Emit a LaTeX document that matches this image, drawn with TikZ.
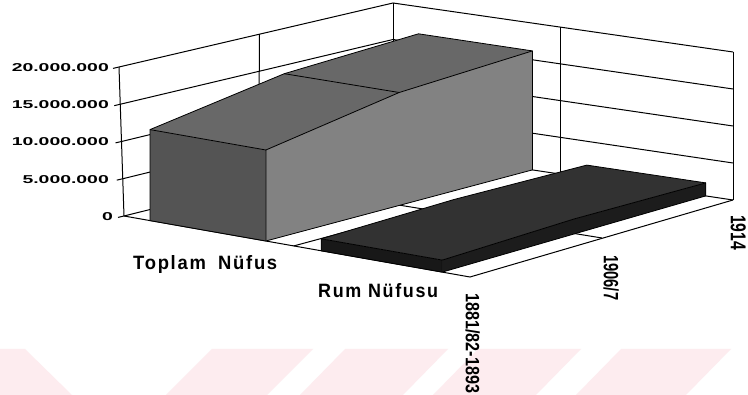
\documentclass[tikz,border=0pt]{standalone}
\usepackage{fontspec}
\setmainfont{Liberation Sans}
\newfontfamily\lblfont{Liberation Sans}[FakeStretch=0.75,LetterSpace=7]
\newfontfamily\catfont{Liberation Sans}[FakeStretch=0.85]
\usepackage{graphicx}
\definecolor{pinkwm}{RGB}{253,236,239}
\definecolor{endT}{RGB}{84,84,84}
\definecolor{topT}{RGB}{104,104,104}
\definecolor{frontT}{RGB}{130,130,130}
\definecolor{endR}{RGB}{24,24,24}
\definecolor{frontR}{RGB}{28,28,28}
\definecolor{topR}{RGB}{50,50,50}
\newcommand\axlab[1]{\scalebox{1.7}[1]{\fontsize{11.4}{12}\selectfont\bfseries #1}}
\begin{document}
\begin{tikzpicture}[x=1pt,y=-1pt,
  wall/.style={line width=1pt,black},
  face/.style={draw=black,line width=0.8pt,line join=round},
  ylab/.style={anchor=east,inner sep=0pt},
  serlab/.style={anchor=base west,inner sep=0pt},
  catlab/.style={anchor=north west,inner sep=0pt,rotate=-90}]
\useasboundingbox (0,0) rectangle (748,395);
\fill[white] (0,0) rectangle (748,395);
% watermark
\fill[pinkwm] (0,349) -- (25,349) -- (72,395) -- (0,395) -- cycle;
\fill[pinkwm] (212,349) -- (313,349) -- (267,395) -- (166,395) -- cycle;
\fill[pinkwm] (345,349) -- (448,349) -- (403,395) -- (300,395) -- cycle;
\fill[pinkwm] (478,349) -- (581,349) -- (536,395) -- (433,395) -- cycle;
\fill[pinkwm] (621,349) -- (731,349) -- (686,395) -- (576,395) -- cycle;
% corners
\coordinate (A) at (124,216);
\coordinate (B) at (393,149);
\coordinate (C) at (733,200);
\coordinate (D) at (470,277);
% walls: horizontal gridlines and ticks
\foreach \k in {0,...,4}{
  \draw[wall] (119+1.25*\k,67+37.25*\k) -- (393,3+36.5*\k) -- (733,52+37*\k);
  \draw[wall] (119+1.25*\k,67+37.25*\k) -- ++(-6,1.4);
}
% verticals
\draw[wall] (119,67) -- (A);
\draw[wall] (259.5,34.2) -- (258.5,182.3);
\draw[wall] (393,3) -- (B);
\draw[wall] (560,27) -- (560,174);
\draw[wall] (733,52) -- (C);
% floor
\draw[wall] (A) -- (D) -- (C);
\draw[wall] (258.5,182.3) -- (602,238);
\draw[wall] (293.5,246) -- (560,174);
% y labels
\node[ylab] (y20) at (109,68) {\axlab{20.000.000}};
\node[ylab] (y15) at (109,105) {\axlab{15.000.000}};
\node[ylab] (y10) at (109,142) {\axlab{10.000.000}};
\node[ylab] (y5)  at (109,179.5) {\axlab{5.000.000}};
\node[ylab] (y0)  at (113,216.5) {\axlab{0}};
% Toplam Nufus area
\fill[endT] (150,220.6) -- (265.9,241) -- (265.9,150) -- (150,129.6) -- cycle;
\fill[frontT] (265.9,241) -- (399.2,205.5) -- (532.4,169.9) -- (532.4,50.9) -- (399.2,92.5) -- (265.9,150) -- cycle;
\fill[topT] (150,129.6) -- (284.3,73.7) -- (418.5,33.8) -- (532.4,50.9) -- (399.2,92.5) -- (265.9,150) -- cycle;
\draw[face] (150,220.6) -- (265.9,241) -- (532.4,169.9) -- (532.4,50.9) -- (418.5,33.8) -- (284.3,73.7) -- (150,129.6) -- cycle;
\draw[face] (150,129.6) -- (265.9,150) -- (265.9,241);
\draw[face] (265.9,150) -- (399.2,92.5) -- (532.4,50.9);
\draw[face] (284.3,73.7) -- (399.2,92.5);
% Rum Nufusu area
\fill[endR] (321.2,250.8) -- (442.3,272.1) -- (442.3,260.1) -- (321.2,238.8) -- cycle;
\fill[frontR] (442.3,272.1) -- (574,234) -- (705.8,195.9) -- (705.8,182.9) -- (574,219) -- (442.3,260.1) -- cycle;
\fill[topR] (321.2,238.8) -- (454,199.5) -- (586.8,165.1) -- (705.8,182.9) -- (574,219) -- (442.3,260.1) -- cycle;
\draw[face] (321.2,250.8) -- (442.3,272.1) -- (574,234) -- (705.8,195.9) -- (705.8,182.9) -- (586.8,165.1) -- (454,199.5) -- (321.2,238.8) -- cycle;
\draw[face] (321.2,238.8) -- (442.3,260.1) -- (442.3,272.1);
\draw[face] (442.3,260.1) -- (574,219) -- (705.8,182.9);
% series labels
\node[serlab] (s1) at (133,270) {\resizebox{144pt}{14pt}{\lblfont\bfseries Toplam\hspace{0.5em}Nüfus}};
\node[serlab] (s2) at (318,298) {\resizebox{120pt}{14pt}{\lblfont\bfseries Rum Nüfusu}};
% category labels
\node[catlab] (c1) at (480,293) {\resizebox{100pt}{14pt}{\catfont\bfseries 1881/82-1893}};
\node[catlab] (c2) at (619,255) {\resizebox{45pt}{15pt}{\catfont\bfseries 1906/7}};
\node[catlab] (c3) at (746,215) {\resizebox{35pt}{15pt}{\catfont\bfseries 1914}};
\end{tikzpicture}
\end{document}
